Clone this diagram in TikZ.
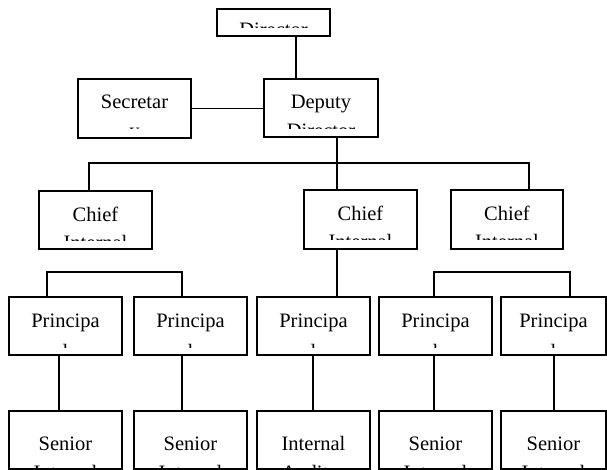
\documentclass[tikz,border=0pt]{standalone}
\usepackage{fontspec}
\setmainfont{Liberation Serif}
\tikzset{
  boxst/.style={draw, line width=1.6pt, rectangle, inner sep=0pt, outer sep=0pt, anchor=north west},
  conn/.style={line width=1.4pt},
  lbl/.style={inner sep=0pt, outer sep=0pt, anchor=base, font=\fontsize{20.5}{24}\selectfont},
}
\newcommand\obox[7]{%
  \node[boxst, minimum width={#4-#2}, minimum height={#5-#3}] (#1) at (#2,#3) {};
  \begin{scope}
    \clip (#2,#3) rectangle (#4,#3+\clipoff);
    \node[lbl] (#1-a) at ({(#2+#4)/2},#3+\bA) {#6};
    \node[lbl] (#1-b) at ({(#2+#4)/2},#3+\bB) {#7};
  \end{scope}}
\begin{document}
\begin{tikzpicture}[x=1pt,y=-1pt]
\useasboundingbox (0,0) rectangle (607,470);
% director
\def\bA{28}\def\bB{60}\def\clipoff{19}
\obox{director}{217}{9}{330}{36}{Director}{}
% second row
\def\bA{30}\def\bB{59}\def\clipoff{50}
\obox{secretary}{78}{79}{191}{138}{Secretar}{y}
\obox{deputy}{264}{79}{378}{137}{Deputy}{Director}
% chiefs
\def\bA{31}\def\bB{58.5}\def\clipoff{50}
\obox{chief1}{39}{191}{152}{249}{Chief}{Internal}
\obox{chief2}{304}{190}{417}{249}{Chief}{Internal}
\obox{chief3}{451}{190}{563}{249}{Chief}{Internal}
% principals
\def\bA{30}\def\bB{61}\def\clipoff{50}
\obox{p1}{9}{297}{122}{355}{Principa}{l}
\obox{p2}{134}{297}{247}{355}{Principa}{l}
\obox{p3}{257}{297}{370}{355}{Principa}{l}
\obox{p4}{379}{297}{492}{355}{Principa}{l}
\obox{p5}{501}{297}{606}{355}{Principa}{l}
% seniors
\def\bA{39}\def\bB{68}\def\clipoff{56}
\obox{s1}{9}{411}{122}{469}{Senior}{Internal}
\obox{s2}{134}{411}{247}{469}{Senior}{Internal}
\obox{s3}{257}{411}{370}{469}{Internal}{Auditor}
\obox{s4}{379}{411}{492}{469}{Senior}{Internal}
\obox{s5}{501}{411}{606}{469}{Senior}{Internal}
% connectors
\coordinate (dd) at (296,36);
\draw[conn] (director.south -| dd) -- (deputy.north -| dd);
\draw[conn] (secretary.east) -- (secretary.east -| deputy.west);
\coordinate (bm) at (337,163);
\coordinate (bl) at (89,163);
\coordinate (br) at (529,163);
\draw[conn] (deputy.south -| bm) -- (chief2.north -| bm);
\draw[conn] (chief1.north -| bl) -- (bl) -- (br) -- (chief3.north -| br);
\draw[conn] (chief2.south -| bm) -- (p3.north -| bm);
\coordinate (lb1) at (47,272);
\coordinate (lb2) at (182,272);
\draw[conn] (p1.north -| lb1) -- (lb1) -- (lb2) -- (p2.north -| lb2);
\coordinate (rb1) at (434,272);
\coordinate (rb2) at (570,272);
\draw[conn] (p4.north -| rb1) -- (rb1) -- (rb2) -- (p5.north -| rb2);
\foreach \i/\x in {1/59,2/182,3/313,4/434,5/554}{
  \coordinate (v\i) at (\x,0);
  \draw[conn] (p\i.south -| v\i) -- (s\i.north -| v\i);
}
\end{tikzpicture}
\end{document}
